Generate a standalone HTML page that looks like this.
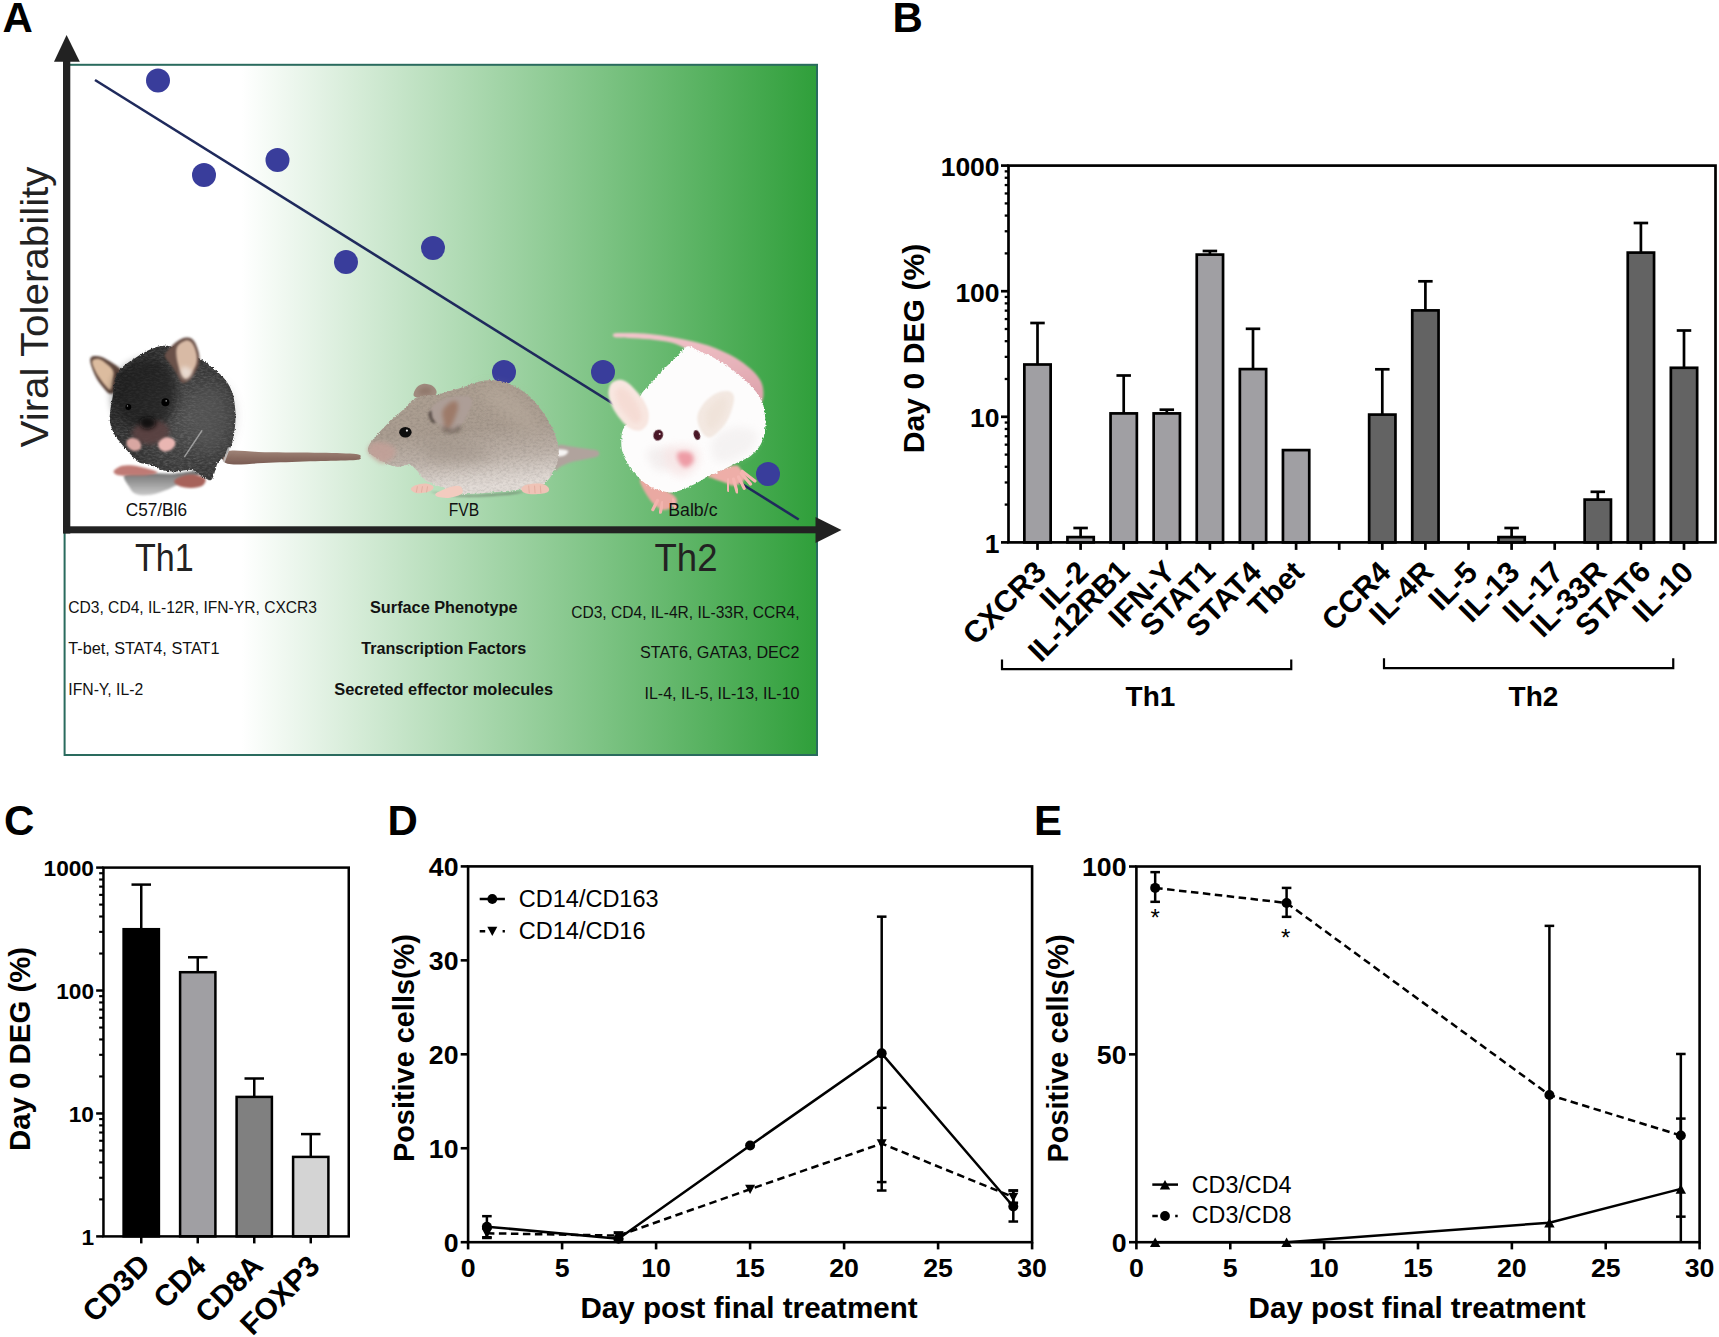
<!DOCTYPE html>
<html lang="en"><head><meta charset="utf-8"><title>Figure</title>
<style>html,body{margin:0;padding:0;background:#fff;overflow:hidden}svg{display:block}text{font-family:'Liberation Sans', sans-serif}</style>
</head><body>
<svg width="1719" height="1337" viewBox="0 0 1719 1337">
<defs>
<linearGradient id="gA" x1="0" y1="0" x2="1" y2="0"><stop offset="0" stop-color="#fff"/><stop offset="0.235" stop-color="#fff"/><stop offset="1" stop-color="#2f9f3a"/></linearGradient>
<filter id="bl05" x="-20%" y="-20%" width="140%" height="140%"><feGaussianBlur stdDeviation="0.5"/></filter>
<filter id="bl1" x="-20%" y="-20%" width="140%" height="140%"><feGaussianBlur stdDeviation="0.9"/></filter>
<filter id="bl2" x="-30%" y="-30%" width="160%" height="160%"><feGaussianBlur stdDeviation="2"/></filter>
<filter id="bl4" x="-40%" y="-40%" width="180%" height="180%"><feGaussianBlur stdDeviation="4"/></filter>
<filter id="bl7" x="-50%" y="-50%" width="200%" height="200%"><feGaussianBlur stdDeviation="7"/></filter>
<filter id="fur" x="-10%" y="-10%" width="120%" height="120%"><feTurbulence type="fractalNoise" baseFrequency="0.55" numOctaves="2" seed="3" result="n"/><feDisplacementMap in="SourceGraphic" in2="n" scale="3.2" xChannelSelector="R" yChannelSelector="G"/><feGaussianBlur stdDeviation="0.55"/></filter>
<filter id="furtex" x="0" y="0" width="100%" height="100%"><feTurbulence type="fractalNoise" baseFrequency="0.25 0.6" numOctaves="3" seed="7" result="n"/><feColorMatrix in="n" type="matrix" values="0 0 0 0 1  0 0 0 0 1  0 0 0 0 1  1.6 0 0 0 -0.62" result="a"/><feComposite in="a" in2="SourceGraphic" operator="in"/></filter>
<filter id="furtexd" x="0" y="0" width="100%" height="100%"><feTurbulence type="fractalNoise" baseFrequency="0.3 0.5" numOctaves="3" seed="11" result="n"/><feColorMatrix in="n" type="matrix" values="0 0 0 0 0  0 0 0 0 0  0 0 0 0 0  0 1.8 0 0 -0.7" result="a"/><feComposite in="a" in2="SourceGraphic" operator="in"/></filter>
<linearGradient id="m1sh" x1="0" y1="0" x2="0" y2="1"><stop offset="0" stop-color="#6f6f6f"/><stop offset="1" stop-color="#c9c9c9"/></linearGradient>
<linearGradient id="m1t" x1="0" y1="0" x2="0" y2="1"><stop offset="0" stop-color="#a08478"/><stop offset="0.5" stop-color="#8c6e63"/><stop offset="1" stop-color="#7a5d54"/></linearGradient>
<radialGradient id="m1g" cx="0.62" cy="0.55" r="0.62"><stop offset="0" stop-color="#505050"/><stop offset="0.55" stop-color="#3c3c3c"/><stop offset="1" stop-color="#2b2b2b"/></radialGradient>
<linearGradient id="m2g" x1="0" y1="0" x2="0.15" y2="1"><stop offset="0" stop-color="#ad9f91"/><stop offset="0.5" stop-color="#aa9d91"/><stop offset="0.75" stop-color="#beb3aa"/><stop offset="0.92" stop-color="#d8d0ca"/><stop offset="1" stop-color="#e2dbd6"/></linearGradient>
<linearGradient id="m3t" x1="0" y1="0" x2="0.3" y2="1"><stop offset="0" stop-color="#f3c6cb"/><stop offset="1" stop-color="#dfa6af"/></linearGradient>
</defs>
<rect width="1719" height="1337" fill="#fff"/>
<g id="panelA">
<text x="2.40" y="32.30" font-size="42" font-weight="bold" text-anchor="start" fill="#000" >A</text>
<rect x="64.6" y="64.8" width="752.4" height="690.2" fill="url(#gA)" stroke="#2a6b5e" stroke-width="2"/>
<line x1="95.00" y1="80.00" x2="798.75" y2="519.50" stroke="#1f2a5c" stroke-width="2.6" />
<circle cx="158" cy="80.5" r="12" fill="#393d9b"/>
<circle cx="204" cy="175" r="12" fill="#393d9b"/>
<circle cx="277.5" cy="160" r="12" fill="#393d9b"/>
<circle cx="346" cy="262" r="12" fill="#393d9b"/>
<circle cx="433" cy="248" r="12" fill="#393d9b"/>
<circle cx="504" cy="372" r="12" fill="#393d9b"/>
<circle cx="603" cy="372" r="12" fill="#393d9b"/>
<circle cx="768" cy="474" r="12" fill="#393d9b"/>
<g id="mouse1">
<path d="M124.5,474.9 C126.9,472.6 135.7,472.6 143.6,472.4 C151.4,472.2 163.1,473.9 171.5,473.7 C180.0,473.5 189.3,471.1 194.4,471.1 C199.5,471.1 204.2,471.8 202.1,473.7 C199.9,475.6 187.2,480.0 181.7,482.6 C176.2,485.1 174.1,486.9 169.0,488.9 C163.9,490.9 156.7,493.8 151.2,494.7 C145.7,495.5 139.7,495.4 135.9,494.0 C132.2,492.6 130.9,489.6 129.0,486.4 C127.0,483.2 122.1,477.3 124.5,474.9Z" fill="url(#m1sh)" filter="url(#bl1)" />
<path d="M227.5,451.2 C233.7,449.3 249.3,451.9 264.8,452.2 C280.3,452.4 305.4,452.4 320.6,452.7 C335.8,453.0 349.3,453.3 356.0,454.0 C362.6,454.8 360.4,456.4 360.4,457.4 C360.4,458.4 362.6,459.4 356.0,460.0 C349.3,460.6 334.3,460.7 320.6,461.1 C307.0,461.5 289.6,462.2 274.1,462.6 C258.6,463.0 235.3,465.6 227.5,463.7 C219.8,461.8 221.3,453.2 227.5,451.2Z" fill="url(#m1t)" filter="url(#bl05)" />
<path d="M90.2,359.2 C90.5,357.2 92.1,356.4 94.0,356.1 C95.9,355.7 98.6,355.9 101.6,357.0 C104.6,358.0 108.8,360.6 111.8,362.4 C114.8,364.3 117.6,366.2 119.4,368.1 C121.2,370.1 122.7,372.1 122.6,373.9 C122.5,375.7 119.8,377.1 118.8,379.0 C117.7,380.8 117.0,382.4 116.2,384.7 C115.5,386.9 115.5,390.8 114.3,392.3 C113.2,393.8 111.2,394.4 109.2,393.6 C107.3,392.7 105.0,389.8 102.9,387.2 C100.8,384.7 98.3,381.5 96.5,378.3 C94.7,375.1 93.1,371.3 92.1,368.1 C91.0,365.0 89.9,361.3 90.2,359.2Z" fill="#5e463c" filter="url(#bl1)" />
<path d="M92.5,360.5 C93.4,359.2 96.6,358.4 99.1,359.0 C101.6,359.6 105.0,362.3 107.3,364.3 C109.7,366.4 112.4,368.7 113.3,371.3 C114.2,374.0 113.3,377.1 112.8,380.2 C112.3,383.3 111.8,389.0 110.5,389.8 C109.2,390.5 106.9,387.2 104.8,384.9 C102.7,382.6 100.0,379.0 98.1,376.0 C96.1,373.1 94.3,369.7 93.4,367.1 C92.4,364.5 91.5,361.9 92.5,360.5Z" fill="#dcbc9f" filter="url(#bl1)" />
<path d="M113.7,471.1 C114.3,469.6 118.7,466.7 122.0,465.8 C125.2,464.9 129.4,465.1 133.4,465.5 C137.4,466.0 142.1,467.2 146.1,468.3 C150.1,469.5 157.6,471.3 157.6,472.4 C157.6,473.5 150.6,474.7 146.1,475.2 C141.7,475.7 135.5,475.6 130.9,475.6 C126.2,475.6 121.0,475.9 118.1,475.2 C115.3,474.5 113.1,472.7 113.7,471.1Z" fill="#bf7a74" filter="url(#bl1)" />
<path d="M174.1,481.3 C174.3,479.6 178.3,477.3 181.7,476.2 C185.1,475.1 190.5,474.3 194.4,474.7 C198.4,475.1 203.9,476.7 205.2,478.5 C206.6,480.3 204.9,483.8 202.7,485.4 C200.5,486.9 195.6,487.7 191.9,487.9 C188.2,488.1 183.4,487.7 180.4,486.6 C177.5,485.5 173.9,483.0 174.1,481.3Z" fill="#a7625a" filter="url(#bl1)" />
<path d="M118.1,372.0 C119.8,369.6 122.6,366.9 125.8,364.3 C129.0,361.8 133.0,359.2 137.2,356.7 C141.5,354.2 147.2,350.9 151.2,349.1 C155.2,347.3 158.0,346.3 161.4,345.9 C164.8,345.5 167.5,345.6 171.5,346.5 C175.6,347.5 180.7,349.5 185.5,351.6 C190.4,353.7 195.9,356.3 200.8,359.2 C205.7,362.2 210.5,365.8 214.8,369.4 C219.0,373.0 223.3,376.8 226.2,380.9 C229.2,384.9 231.0,388.5 232.6,393.6 C234.1,398.7 235.0,405.4 235.4,411.4 C235.7,417.3 235.4,423.7 234.7,429.2 C234.1,434.7 233.0,440.2 231.6,444.4 C230.1,448.7 228.5,451.6 226.2,454.6 C223.9,457.6 219.8,459.7 218.0,462.2 C216.2,464.8 216.6,466.9 215.4,469.9 C214.2,472.8 213.2,479.0 211.0,480.0 C208.7,481.1 205.2,477.9 202.1,476.2 C198.9,474.5 196.1,470.7 191.9,469.9 C187.6,469.1 181.7,471.4 176.6,471.4 C171.5,471.4 165.6,470.9 161.4,469.9 C157.1,468.8 155.0,466.3 151.2,465.0 C147.4,463.8 141.9,464.0 138.5,462.2 C135.1,460.5 133.6,457.6 130.9,454.6 C128.1,451.6 124.7,447.8 122.0,444.4 C119.2,441.0 116.3,438.1 114.3,434.3 C112.3,430.4 110.5,425.8 109.9,421.5 C109.2,417.3 110.0,413.1 110.5,408.8 C111.0,404.6 112.3,399.9 112.8,396.1 C113.3,392.3 113.2,388.9 113.7,385.9 C114.2,383.0 114.9,380.6 115.6,378.3 C116.3,376.0 116.4,374.3 118.1,372.0Z" fill="url(#m1g)" filter="url(#fur)" />
<path d="M118.1,372.0 C119.8,369.6 122.6,366.9 125.8,364.3 C129.0,361.8 133.0,359.2 137.2,356.7 C141.5,354.2 147.2,350.9 151.2,349.1 C155.2,347.3 158.0,346.3 161.4,345.9 C164.8,345.5 167.5,345.6 171.5,346.5 C175.6,347.5 180.7,349.5 185.5,351.6 C190.4,353.7 195.9,356.3 200.8,359.2 C205.7,362.2 210.5,365.8 214.8,369.4 C219.0,373.0 223.3,376.8 226.2,380.9 C229.2,384.9 231.0,388.5 232.6,393.6 C234.1,398.7 235.0,405.4 235.4,411.4 C235.7,417.3 235.4,423.7 234.7,429.2 C234.1,434.7 233.0,440.2 231.6,444.4 C230.1,448.7 228.5,451.6 226.2,454.6 C223.9,457.6 219.8,459.7 218.0,462.2 C216.2,464.8 216.6,466.9 215.4,469.9 C214.2,472.8 213.2,479.0 211.0,480.0 C208.7,481.1 205.2,477.9 202.1,476.2 C198.9,474.5 196.1,470.7 191.9,469.9 C187.6,469.1 181.7,471.4 176.6,471.4 C171.5,471.4 165.6,470.9 161.4,469.9 C157.1,468.8 155.0,466.3 151.2,465.0 C147.4,463.8 141.9,464.0 138.5,462.2 C135.1,460.5 133.6,457.6 130.9,454.6 C128.1,451.6 124.7,447.8 122.0,444.4 C119.2,441.0 116.3,438.1 114.3,434.3 C112.3,430.4 110.5,425.8 109.9,421.5 C109.2,417.3 110.0,413.1 110.5,408.8 C111.0,404.6 112.3,399.9 112.8,396.1 C113.3,392.3 113.2,388.9 113.7,385.9 C114.2,383.0 114.9,380.6 115.6,378.3 C116.3,376.0 116.4,374.3 118.1,372.0Z" fill="#fff" filter="url(#furtex)" opacity="0.2"/>
<path d="M118.1,375.8 C121.5,371.1 127.0,366.0 133.4,363.1 C139.8,360.1 149.9,356.5 156.3,358.0 C162.6,359.5 168.2,365.6 171.5,372.0 C174.9,378.3 177.1,388.3 176.6,396.1 C176.2,404.0 173.2,413.3 169.0,419.0 C164.8,424.7 157.6,429.2 151.2,430.4 C144.8,431.7 136.8,429.8 130.9,426.6 C124.9,423.5 118.6,417.3 115.6,411.4 C112.6,405.4 112.6,397.0 113.1,391.0 C113.5,385.1 114.8,380.4 118.1,375.8Z" fill="#141414" filter="url(#bl4)" opacity="0.6" />
<path d="M194.4,396.1 C198.0,389.1 207.8,383.8 213.5,384.7 C219.2,385.5 226.0,394.2 228.8,401.2 C231.5,408.2 231.5,418.8 230.0,426.6 C228.5,434.5 224.5,444.0 219.9,448.2 C215.2,452.5 206.7,455.7 202.1,452.1 C197.4,448.5 193.2,436.0 191.9,426.6 C190.6,417.3 190.8,403.1 194.4,396.1Z" fill="#5a5a5a" filter="url(#bl7)" opacity="0.55" />
<path d="M164.9,356.1 C164.8,353.7 167.1,351.5 169.0,349.1 C171.0,346.7 173.9,343.6 176.6,341.7 C179.4,339.8 182.7,337.9 185.5,337.6 C188.3,337.4 191.3,337.8 193.4,340.2 C195.6,342.5 197.5,347.8 198.5,351.6 C199.5,355.4 199.8,359.5 199.1,363.1 C198.5,366.7 196.5,370.2 194.7,373.2 C192.9,376.2 190.5,379.6 188.3,381.1 C186.2,382.6 183.7,383.7 181.7,382.4 C179.8,381.1 178.6,376.7 176.6,373.5 C174.6,370.3 171.6,366.2 169.6,363.3 C167.7,360.4 165.0,358.4 164.9,356.1Z" fill="#6a5148" filter="url(#bl1)" />
<path d="M176.9,347.2 C178.3,343.8 183.0,341.2 185.5,340.4 C188.0,339.7 190.1,340.6 191.9,342.7 C193.7,344.8 195.6,349.5 196.3,352.9 C197.1,356.3 197.2,359.8 196.5,363.1 C195.8,366.3 193.9,369.6 192.1,372.2 C190.4,374.8 187.7,378.6 185.8,378.6 C183.9,378.6 182.1,375.2 180.7,372.2 C179.3,369.2 177.8,364.7 177.1,360.5 C176.5,356.3 175.5,350.5 176.9,347.2Z" fill="#d8baa5" filter="url(#bl1)" />
<path d="M181.7,366.9 C183.0,365.6 187.6,367.1 189.3,368.1 C191.0,369.2 192.3,371.4 191.9,373.2 C191.5,375.0 188.5,378.5 186.8,379.0 C185.1,379.4 182.6,377.8 181.7,375.8 C180.9,373.8 180.4,368.1 181.7,366.9Z" fill="#eee3dc" filter="url(#bl2)" opacity="0.8" />
<path d="M135.9,426.6 C138.7,424.5 144.4,422.4 148.7,421.5 C152.9,420.7 158.0,420.1 161.4,421.5 C164.8,423.0 168.6,427.3 169.0,430.4 C169.4,433.6 166.9,438.3 163.9,440.6 C160.9,442.9 155.4,444.2 151.2,444.4 C147.0,444.6 141.7,443.6 138.5,441.9 C135.3,440.2 132.6,436.8 132.1,434.3 C131.7,431.7 133.2,428.7 135.9,426.6Z" fill="#5b4242" filter="url(#bl2)" opacity="0.9" />
<path d="M141.0,419.0 C142.7,417.5 148.7,416.9 151.2,417.7 C153.7,418.6 156.7,422.2 156.3,424.1 C155.9,426.0 151.2,428.7 148.7,429.2 C146.1,429.6 142.3,428.3 141.0,426.6 C139.8,424.9 139.3,420.5 141.0,419.0Z" fill="#0e0e0e" filter="url(#bl2)" opacity="0.9" />
<circle cx="128.3" cy="406.9" r="3" fill="#030303" filter="url(#bl05)"/><circle cx="127.5" cy="405.9" r="0.7" fill="#999"/>
<circle cx="165.4" cy="402.2" r="4" fill="#030303" filter="url(#bl05)"/><circle cx="166.2" cy="400.9" r="0.8" fill="#999"/>
<path d="M126.4,441.9 C126.8,440.3 129.1,438.5 130.9,438.1 C132.7,437.6 135.5,438.3 137.2,439.3 C138.9,440.4 140.6,442.7 141.0,444.4 C141.5,446.1 141.0,448.5 139.8,449.5 C138.5,450.6 135.3,451.1 133.4,450.8 C131.5,450.5 129.5,449.1 128.3,447.6 C127.1,446.1 126.0,443.5 126.4,441.9Z" fill="#d9a7a2" filter="url(#bl1)" />
<path d="M158.8,441.9 C159.9,440.2 162.9,438.0 165.2,437.4 C167.5,436.9 171.1,437.6 172.8,438.7 C174.5,439.8 175.6,442.0 175.4,443.8 C175.1,445.6 173.5,448.2 171.5,449.5 C169.6,450.8 166.0,451.7 163.9,451.4 C161.8,451.1 159.7,449.2 158.8,447.6 C158.0,446.0 157.8,443.6 158.8,441.9Z" fill="#e9b6b2" filter="url(#bl1)" />
<path d="M184.3,457.1 L202.1,430.4" stroke="#b9b9b9" stroke-width="1.5" opacity="0.75" filter="url(#bl05)"/>
<path d="M223.7,462.2 L229.0,447.6" stroke="#d0d0d0" stroke-width="2.2" opacity="0.75" filter="url(#bl05)"/>
</g>
<g id="mouse2">
<path d="M554.9,451.4 C555.6,447.2 556.6,445.7 559.2,444.9 C561.9,444.1 566.3,445.8 570.9,446.5 C575.5,447.2 582.6,448.2 586.9,448.8 C591.1,449.5 594.3,449.6 596.3,450.3 C598.4,451.0 599.1,452.1 599.2,453.2 C599.4,454.2 599.1,455.6 597.1,456.5 C595.0,457.5 591.2,458.1 586.9,459.0 C582.5,460.0 575.2,460.9 570.9,462.2 C566.5,463.5 563.4,465.2 560.7,466.6 C558.0,467.9 555.9,472.9 554.9,470.3 C553.9,467.8 554.2,455.7 554.9,451.4Z" fill="#b0a39d" filter="url(#bl1)" />
<path d="M557.1,449.7 C559.0,448.8 566.8,449.9 568.0,450.9 C569.2,451.8 566.3,454.6 564.3,455.5 C562.4,456.4 557.5,457.1 556.3,456.1 C555.1,455.1 555.1,450.6 557.1,449.7Z" fill="#f6f4f3" filter="url(#bl1)" />
<path d="M429.8,491.4 C429.8,491.1 449.2,494.8 461.8,495.1 C474.4,495.3 495.0,493.5 505.4,492.9 C515.9,492.3 524.3,491.1 524.3,491.4 C524.3,491.8 515.9,494.2 505.4,495.1 C495.0,496.0 474.4,497.4 461.8,496.8 C449.2,496.2 429.8,491.7 429.8,491.4Z" fill="#5f6b5c" filter="url(#bl1)" opacity="0.6" />
<path d="M413.5,395.0 C413.4,393.3 415.0,389.3 416.7,387.5 C418.5,385.6 421.3,384.1 424.0,383.8 C426.7,383.6 430.6,384.7 432.7,386.0 C434.8,387.3 436.5,390.0 436.6,391.8 C436.8,393.6 435.6,396.1 433.4,396.9 C431.3,397.8 426.7,396.8 424.0,396.9 C421.3,397.0 419.2,397.9 417.4,397.6 C415.7,397.3 413.6,396.7 413.5,395.0Z" fill="#a08b7f" filter="url(#bl05)" />
<path d="M418.2,393.3 C417.7,392.2 419.6,389.3 421.1,388.2 C422.5,387.1 425.1,386.5 426.9,386.7 C428.7,387.0 431.5,388.4 432.0,389.6 C432.5,390.8 431.1,393.1 429.8,394.0 C428.5,394.8 425.9,394.8 424.0,394.7 C422.1,394.6 418.7,394.4 418.2,393.3Z" fill="#8d7468" filter="url(#bl2)" opacity="0.8" />
<path d="M368.0,448.5 C368.4,446.5 369.6,444.2 371.6,441.3 C373.7,438.4 377.0,434.7 380.4,431.1 C383.8,427.4 388.1,423.1 392.0,419.4 C395.9,415.8 400.0,412.7 403.6,409.3 C407.3,405.9 410.4,401.4 413.8,399.1 C417.2,396.8 420.4,396.2 424.0,395.5 C427.6,394.7 431.7,395.3 435.6,394.7 C439.5,394.1 442.9,393.0 447.3,391.8 C451.6,390.6 457.0,389.0 461.8,387.5 C466.7,385.9 472.0,383.6 476.3,382.4 C480.7,381.1 484.1,380.4 488.0,380.2 C491.9,379.9 495.5,380.1 499.6,380.9 C503.7,381.8 508.3,383.2 512.7,385.3 C517.1,387.3 521.7,390.0 525.8,393.3 C529.9,396.5 533.8,400.5 537.4,404.9 C541.1,409.3 544.7,414.6 547.6,419.4 C550.5,424.3 553.1,429.1 554.9,434.0 C556.7,438.8 558.0,444.2 558.5,448.5 C559.0,452.9 558.6,456.3 557.8,460.2 C556.9,464.0 555.1,468.4 553.4,471.8 C551.7,475.2 550.0,478.1 547.6,480.5 C545.2,483.0 543.5,484.8 538.9,486.3 C534.3,487.8 528.0,488.5 520.0,489.5 C512.0,490.6 500.1,491.7 490.9,492.5 C481.7,493.2 471.5,494.4 464.7,493.9 C457.9,493.4 455.0,491.0 450.2,489.5 C445.3,488.0 440.0,486.6 435.6,484.9 C431.3,483.1 427.1,481.5 424.0,479.1 C420.8,476.7 419.1,472.8 416.7,470.3 C414.3,467.9 412.6,465.1 409.4,464.5 C406.3,463.9 401.7,467.1 397.8,466.9 C393.9,466.7 389.8,464.9 386.2,463.4 C382.5,461.8 378.8,459.2 376.0,457.6 C373.2,455.9 370.8,454.7 369.5,453.2 C368.1,451.7 367.6,450.5 368.0,448.5Z" fill="url(#m2g)" filter="url(#fur)" />
<path d="M368.0,448.5 C368.4,446.5 369.6,444.2 371.6,441.3 C373.7,438.4 377.0,434.7 380.4,431.1 C383.8,427.4 388.1,423.1 392.0,419.4 C395.9,415.8 400.0,412.7 403.6,409.3 C407.3,405.9 410.4,401.4 413.8,399.1 C417.2,396.8 420.4,396.2 424.0,395.5 C427.6,394.7 431.7,395.3 435.6,394.7 C439.5,394.1 442.9,393.0 447.3,391.8 C451.6,390.6 457.0,389.0 461.8,387.5 C466.7,385.9 472.0,383.6 476.3,382.4 C480.7,381.1 484.1,380.4 488.0,380.2 C491.9,379.9 495.5,380.1 499.6,380.9 C503.7,381.8 508.3,383.2 512.7,385.3 C517.1,387.3 521.7,390.0 525.8,393.3 C529.9,396.5 533.8,400.5 537.4,404.9 C541.1,409.3 544.7,414.6 547.6,419.4 C550.5,424.3 553.1,429.1 554.9,434.0 C556.7,438.8 558.0,444.2 558.5,448.5 C559.0,452.9 558.6,456.3 557.8,460.2 C556.9,464.0 555.1,468.4 553.4,471.8 C551.7,475.2 550.0,478.1 547.6,480.5 C545.2,483.0 543.5,484.8 538.9,486.3 C534.3,487.8 528.0,488.5 520.0,489.5 C512.0,490.6 500.1,491.7 490.9,492.5 C481.7,493.2 471.5,494.4 464.7,493.9 C457.9,493.4 455.0,491.0 450.2,489.5 C445.3,488.0 440.0,486.6 435.6,484.9 C431.3,483.1 427.1,481.5 424.0,479.1 C420.8,476.7 419.1,472.8 416.7,470.3 C414.3,467.9 412.6,465.1 409.4,464.5 C406.3,463.9 401.7,467.1 397.8,466.9 C393.9,466.7 389.8,464.9 386.2,463.4 C382.5,461.8 378.8,459.2 376.0,457.6 C373.2,455.9 370.8,454.7 369.5,453.2 C368.1,451.7 367.6,450.5 368.0,448.5Z" fill="#4a3f36" filter="url(#furtexd)" opacity="0.11"/>
<path d="M410.9,489.5 C410.4,488.2 412.8,486.2 415.3,485.2 C417.7,484.2 422.5,483.3 425.4,483.4 C428.4,483.6 432.0,484.9 433.0,486.1 C434.0,487.2 433.7,489.2 431.3,490.4 C428.8,491.6 421.6,493.5 418.2,493.3 C414.8,493.2 411.4,490.9 410.9,489.5Z" fill="#efc3b6" filter="url(#bl05)" />
<path d="M435.3,493.9 C435.8,492.8 438.5,491.7 441.4,490.4 C444.4,489.2 449.9,487.0 453.1,486.3 C456.3,485.7 459.1,485.4 460.6,486.6 C462.1,487.8 463.8,491.8 462.1,493.6 C460.3,495.5 454.1,497.1 450.2,497.7 C446.2,498.3 441.0,497.7 438.5,497.1 C436.1,496.5 434.8,495.0 435.3,493.9Z" fill="#f3cbbf" filter="url(#bl05)" />
<path d="M521.4,488.4 C521.9,487.0 523.9,485.4 527.2,484.6 C530.6,483.8 538.2,483.2 541.8,483.7 C545.4,484.3 547.8,486.3 548.6,487.8 C549.5,489.3 549.4,491.4 547.0,492.5 C544.7,493.5 538.3,494.2 534.5,494.2 C530.7,494.2 526.5,493.7 524.3,492.7 C522.2,491.8 520.9,489.7 521.4,488.4Z" fill="#efc3b6" filter="url(#bl05)" />
<path d="M417.4,486.3 L416.3,492.5" stroke="#d9a193" stroke-width="0.8" opacity="0.8"/>
<path d="M422.5,486.3 L421.4,492.5" stroke="#d9a193" stroke-width="0.8" opacity="0.8"/>
<path d="M427.6,486.3 L426.5,492.5" stroke="#d9a193" stroke-width="0.8" opacity="0.8"/>
<path d="M528.7,485.6 L529.3,493.3" stroke="#d9a193" stroke-width="0.8" opacity="0.8"/>
<path d="M534.5,485.6 L535.1,493.3" stroke="#d9a193" stroke-width="0.8" opacity="0.8"/>
<path d="M540.3,485.6 L540.9,493.3" stroke="#d9a193" stroke-width="0.8" opacity="0.8"/>
<path d="M421.1,445.6 C423.5,442.0 438.0,438.4 447.3,438.4 C456.5,438.4 469.1,442.5 476.3,445.6 C483.6,448.8 493.3,454.4 490.9,457.3 C488.5,460.2 471.5,462.6 461.8,463.1 C452.1,463.6 439.5,463.1 432.7,460.2 C425.9,457.3 418.7,449.3 421.1,445.6Z" fill="#968a7f" filter="url(#bl7)" opacity="0.4" />
<path d="M479.3,391.8 C479.3,387.9 494.5,387.7 502.5,390.4 C510.5,393.0 520.7,401.0 527.2,407.8 C533.8,414.6 541.8,427.2 541.8,431.1 C541.8,435.0 533.8,434.0 527.2,431.1 C520.7,428.2 510.5,420.2 502.5,413.6 C494.5,407.1 479.3,395.7 479.3,391.8Z" fill="#b9ac9f" filter="url(#bl7)" opacity="0.6" />
<path d="M429.5,412.5 C430.0,410.2 431.7,407.1 434.2,404.9 C436.6,402.7 440.2,400.5 444.4,399.1 C448.5,397.6 454.7,396.5 458.9,396.2 C463.1,395.8 467.1,395.9 469.4,396.9 C471.6,397.9 472.5,399.5 472.3,402.3 C472.0,405.1 469.6,410.0 467.9,413.6 C466.2,417.2 464.5,421.1 462.1,423.8 C459.7,426.5 456.3,429.1 453.4,429.9 C450.4,430.7 447.1,429.7 444.4,428.5 C441.6,427.3 439.3,424.3 437.1,422.6 C434.9,421.0 432.5,420.0 431.3,418.3 C430.0,416.6 429.0,414.7 429.5,412.5Z" fill="#ad9e97" filter="url(#bl1)" />
<path d="M442.6,411.0 C443.5,408.3 446.5,405.1 448.7,403.4 C450.9,401.8 454.4,400.4 456.0,401.1 C457.5,401.8 458.2,405.0 458.0,407.8 C457.8,410.6 456.1,414.8 454.8,418.0 C453.6,421.1 452.0,425.0 450.5,426.7 C449.0,428.5 447.0,429.6 445.8,428.5 C444.6,427.3 444.0,422.6 443.5,419.7 C442.9,416.8 441.7,413.7 442.6,411.0Z" fill="#9d7a69" filter="url(#bl2)" />
<path d="M428.4,413.6 C428.6,412.3 430.5,410.0 431.3,410.7 C432.0,411.4 432.0,416.1 432.7,418.0 C433.4,419.9 435.6,421.5 435.6,422.4 C435.6,423.2 433.7,423.7 432.7,423.1 C431.7,422.5 430.2,420.3 429.5,418.7 C428.8,417.1 428.1,415.0 428.4,413.6Z" fill="#4d433d" filter="url(#bl1)" opacity="0.8" />
<path d="M441.4,426.7 C442.4,426.2 449.9,429.9 453.1,429.6 C456.2,429.4 459.4,425.0 460.3,425.3 C461.3,425.5 461.1,429.9 458.9,431.1 C456.7,432.3 450.2,433.3 447.3,432.5 C444.4,431.8 440.5,427.2 441.4,426.7Z" fill="#5a4d45" filter="url(#bl2)" opacity="0.7" />
<ellipse cx="405.4" cy="432.2" rx="6.2" ry="5.3" fill="#0b0b0b" filter="url(#bl05)"/><circle cx="406.9" cy="430.6" r="1.1" fill="#e8e8e8"/>
<path d="M368.0,448.5 C368.7,446.7 370.3,443.7 373.1,442.7 C375.9,441.7 381.1,441.7 384.7,442.7 C388.4,443.7 393.4,446.1 394.9,448.5 C396.4,451.0 395.4,454.8 393.4,457.3 C391.5,459.7 386.4,462.8 383.3,463.1 C380.1,463.3 376.9,460.3 374.5,458.7 C372.2,457.1 370.1,455.3 369.0,453.6 C367.9,451.9 367.3,450.4 368.0,448.5Z" fill="#c3a098" filter="url(#bl2)" opacity="0.85" />
</g>
<g id="mouse3">
<path d="M614.2,333.5 C616.5,332.8 622.5,333.0 628.4,333.1 C634.3,333.2 642.6,333.5 649.7,334.1 C656.8,334.7 663.9,335.7 671.0,336.9 C678.1,338.1 685.2,339.4 692.3,341.2 C699.4,342.9 706.5,344.7 713.7,347.4 C720.8,350.1 728.8,353.8 735.0,357.4 C741.1,360.9 746.2,364.7 750.6,368.8 C755.0,372.8 759.1,377.3 761.2,381.8 C763.4,386.4 763.7,392.2 763.4,396.0 C763.0,399.8 761.5,405.3 759.1,404.6 C756.7,403.8 752.5,395.8 749.2,391.8 C745.9,387.7 742.8,384.0 739.2,380.4 C735.7,376.9 732.6,373.8 727.9,370.5 C723.1,367.1 716.0,363.4 710.8,360.5 C705.6,357.7 700.9,355.4 696.6,353.4 C692.3,351.4 689.5,350.2 685.2,348.4 C681.0,346.6 677.0,344.1 671.0,342.6 C665.1,341.1 656.8,340.1 649.7,339.3 C642.6,338.6 634.2,338.3 628.4,337.9 C622.6,337.6 617.3,338.0 614.9,337.2 C612.5,336.5 612.0,334.2 614.2,333.5Z" fill="url(#m3t)" filter="url(#bl1)" />
<path d="M639.8,479.9 C640.3,477.4 645.0,477.2 648.3,478.4 C651.6,479.6 655.4,484.1 659.7,487.0 C663.9,489.8 671.0,492.9 673.9,495.5 C676.8,498.1 677.5,500.5 677.0,502.6 C676.5,504.7 673.4,507.1 671.0,508.3 C668.6,509.4 665.4,510.3 662.5,509.7 C659.7,509.0 656.8,507.1 654.0,504.3 C651.1,501.5 647.8,497.0 645.5,492.9 C643.1,488.8 639.3,482.3 639.8,479.9Z" fill="#eaa9a2" filter="url(#bl1)" />
<path d="M657.5,500.5 L652.8,509.7" stroke="#f2b3ad" stroke-width="3.2" stroke-linecap="round" filter="url(#bl05)"/>
<path d="M662.5,502.6 L660.4,512.2" stroke="#f2b3ad" stroke-width="3.2" stroke-linecap="round" filter="url(#bl05)"/>
<path d="M668.2,502.6 L668.2,512.0" stroke="#f2b3ad" stroke-width="3.2" stroke-linecap="round" filter="url(#bl05)"/>
<path d="M672.7,500.0 L676.0,508.5" stroke="#f2b3ad" stroke-width="3.2" stroke-linecap="round" filter="url(#bl05)"/>
<path d="M708.0,475.6 C709.4,473.9 717.4,470.1 722.2,468.5 C726.9,466.8 733.1,465.2 736.4,465.6 C739.7,466.1 740.6,469.2 742.1,471.3 C743.5,473.5 745.4,476.3 744.9,478.4 C744.4,480.6 741.4,482.9 739.2,484.1 C737.1,485.3 734.5,485.8 732.1,485.5 C729.8,485.3 728.1,483.8 725.0,482.7 C721.9,481.6 716.5,479.9 713.7,478.7 C710.8,477.5 706.5,477.3 708.0,475.6Z" fill="#eeaea8" filter="url(#bl1)" />
<path d="M727.9,479.9 L728.6,490.5" stroke="#f4b6b1" stroke-width="3.2" stroke-linecap="round" filter="url(#bl05)"/>
<path d="M733.5,479.1 L737.1,491.9" stroke="#f4b6b1" stroke-width="3.2" stroke-linecap="round" filter="url(#bl05)"/>
<path d="M738.5,477.0 L744.2,488.4" stroke="#f4b6b1" stroke-width="3.2" stroke-linecap="round" filter="url(#bl05)"/>
<path d="M741.4,473.5 L750.6,484.1" stroke="#f4b6b1" stroke-width="3.2" stroke-linecap="round" filter="url(#bl05)"/>
<path d="M742.1,471.3 L754.9,481.0" stroke="#f4b6b1" stroke-width="3.2" stroke-linecap="round" filter="url(#bl05)"/>
<path d="M688.1,346.3 C691.4,346.0 695.2,349.4 699.4,351.3 C703.7,353.2 708.9,355.2 713.7,357.7 C718.4,360.2 723.1,362.9 727.9,366.2 C732.6,369.5 737.6,373.5 742.1,377.6 C746.6,381.6 751.5,386.3 754.9,390.4 C758.2,394.4 760.5,397.5 762.2,401.7 C763.9,406.0 764.6,411.2 765.1,415.9 C765.6,420.7 765.8,425.4 765.1,430.1 C764.4,434.9 763.2,440.1 760.8,444.3 C758.5,448.6 754.5,452.8 750.9,455.7 C747.3,458.6 743.1,459.7 739.2,461.7 C735.4,463.6 731.6,465.5 727.9,467.3 C724.1,469.2 719.8,471.6 716.5,473.0 C713.2,474.5 710.8,474.5 708.0,475.9 C705.1,477.3 702.8,479.7 699.4,481.6 C696.1,483.5 691.9,485.6 688.1,487.2 C684.3,488.9 679.4,490.6 676.7,491.5 C674.0,492.4 674.1,492.7 671.7,492.6 C669.4,492.6 665.9,492.1 662.5,491.2 C659.1,490.3 654.9,489.3 651.1,487.2 C647.4,485.2 643.3,482.0 639.8,478.7 C636.2,475.4 632.7,471.6 629.8,467.3 C627.0,463.1 624.2,457.9 622.7,453.1 C621.3,448.4 621.1,443.2 621.3,438.9 C621.5,434.6 622.0,431.1 624.2,427.3 C626.3,423.5 631.3,421.4 634.1,415.9 C636.9,410.5 638.6,399.8 641.2,394.6 C643.8,389.4 646.6,388.2 649.7,384.7 C652.8,381.1 656.1,377.1 659.7,373.3 C663.2,369.5 667.7,365.3 671.0,361.9 C674.3,358.6 676.7,356.0 679.6,353.4 C682.4,350.8 684.8,346.7 688.1,346.3Z" fill="#fdfcfc" filter="url(#fur)" />
<path d="M713.7,438.7 C717.2,433.4 727.9,428.2 735.0,427.3 C742.1,426.3 753.7,429.2 756.3,433.0 C758.9,436.8 755.3,445.3 750.6,450.0 C745.9,454.8 734.0,460.0 727.9,461.4 C721.7,462.8 716.0,462.3 713.7,458.5 C711.3,454.8 710.1,443.9 713.7,438.7Z" fill="#eeeaea" filter="url(#bl4)" opacity="0.55" />
<path d="M646.9,452.9 C647.4,449.1 655.2,447.2 659.7,447.2 C664.2,447.2 672.0,449.5 673.9,452.9 C675.8,456.2 673.9,464.2 671.0,467.1 C668.2,469.9 660.9,472.3 656.8,469.9 C652.8,467.5 646.4,456.6 646.9,452.9Z" fill="#efe9e9" filter="url(#bl4)" opacity="0.7" />
<path d="M608.5,391.8 C608.8,388.9 609.5,385.3 611.4,383.2 C613.3,381.2 617.0,379.7 619.9,379.7 C622.7,379.7 625.6,381.2 628.4,383.2 C631.3,385.3 634.3,388.7 636.9,391.8 C639.6,394.8 642.4,398.2 644.3,401.7 C646.3,405.3 648.1,409.3 648.6,413.1 C649.1,416.9 648.6,421.6 647.2,424.4 C645.7,427.3 642.7,429.7 640.1,430.4 C637.4,431.2 634.1,430.4 631.3,429.0 C628.4,427.6 625.6,425.0 622.7,421.9 C619.9,418.8 616.3,414.1 614.2,410.5 C612.1,407.0 610.9,403.7 609.9,400.6 C609.0,397.5 608.3,394.7 608.5,391.8Z" fill="#f8e6e0" filter="url(#bl1)" />
<path d="M615.6,391.8 C616.1,388.9 618.9,387.3 621.3,387.5 C623.7,387.7 627.0,390.1 629.8,393.2 C632.7,396.3 636.5,401.7 638.4,406.0 C640.3,410.2 641.7,415.9 641.2,418.8 C640.7,421.6 637.9,423.5 635.5,423.0 C633.1,422.6 629.8,419.0 627.0,415.9 C624.2,412.8 620.4,408.6 618.5,404.6 C616.6,400.5 615.2,394.6 615.6,391.8Z" fill="#f4d6cd" filter="url(#bl2)" opacity="0.6" />
<path d="M698.0,413.4 C699.2,409.8 702.1,405.1 705.1,401.7 C708.2,398.4 712.7,395.0 716.5,393.2 C720.3,391.4 725.0,390.6 727.9,391.1 C730.7,391.5 733.1,393.3 733.8,396.0 C734.6,398.8 733.6,403.1 732.4,407.4 C731.2,411.7 729.1,417.5 726.7,421.6 C724.4,425.7 721.0,429.2 718.2,431.8 C715.4,434.5 712.3,437.3 709.7,437.5 C707.1,437.8 704.5,435.6 702.6,433.3 C700.6,430.9 698.8,426.6 698.0,423.3 C697.3,420.0 696.8,417.0 698.0,413.4Z" fill="#f3e8e1" filter="url(#bl1)" />
<path d="M706.5,411.7 C708.0,407.9 712.0,404.1 715.1,401.7 C718.2,399.3 723.1,396.5 725.0,397.5 C726.9,398.4 727.1,403.6 726.4,407.4 C725.7,411.2 723.1,416.6 720.8,420.2 C718.4,423.7 714.6,428.0 712.2,428.7 C709.9,429.4 707.5,427.3 706.5,424.4 C705.6,421.6 705.1,415.4 706.5,411.7Z" fill="#efe2d8" filter="url(#bl2)" opacity="0.7" />
<ellipse cx="658.2" cy="435.1" rx="4.8" ry="5.6" fill="#4a1826" transform="rotate(20 658.2 435.1)" filter="url(#bl05)"/><circle cx="659.7" cy="433.9" r="1" fill="#e8d0d4"/>
<ellipse cx="696.9" cy="435.1" rx="3.1" ry="5" fill="#4a1826" transform="rotate(-18 696.9 435.1)" filter="url(#bl05)"/>
<path d="M663.9,450.0 C665.6,446.7 671.7,446.2 676.7,445.8 C681.7,445.3 690.0,445.0 693.8,447.2 C697.6,449.3 699.9,454.3 699.4,458.5 C699.0,462.8 694.7,469.9 690.9,472.7 C687.1,475.6 680.7,476.8 676.7,475.6 C672.7,474.4 668.9,469.9 666.8,465.6 C664.6,461.4 662.3,453.3 663.9,450.0Z" fill="#f7e4e4" filter="url(#bl4)" opacity="0.8" />
<path d="M677.4,453.1 C678.5,451.4 682.9,451.4 685.2,451.4 C687.6,451.5 690.3,451.9 691.6,453.6 C693.0,455.3 694.4,459.4 693.3,461.7 C692.3,464.0 687.9,467.3 685.5,467.3 C683.1,467.3 680.2,464.0 678.8,461.7 C677.5,459.3 676.4,454.8 677.4,453.1Z" fill="#ee9ca6" filter="url(#bl2)" />
</g>
<rect x="63" y="58" width="7.3" height="475.5" fill="#222"/>
<polygon points="66.6,35 54,61.8 79.8,61.8" fill="#222"/>
<rect x="63.5" y="526.3" width="754" height="7" fill="#222"/>
<polygon points="841.5,530 815.5,517 815.5,543" fill="#222"/>
<text transform="translate(48.00,447.50) rotate(-90)" font-size="38.5" font-weight="normal" text-anchor="start" fill="#222" textLength="281" lengthAdjust="spacingAndGlyphs">Viral Tolerability</text>
<text x="125.75" y="516.25" font-size="17.5" font-weight="normal" text-anchor="start" fill="#111" textLength="61.25" lengthAdjust="spacingAndGlyphs">C57/Bl6</text>
<text x="448.75" y="516.25" font-size="17.5" font-weight="normal" text-anchor="start" fill="#111" textLength="30.50" lengthAdjust="spacingAndGlyphs">FVB</text>
<text x="668.25" y="516.25" font-size="17.5" font-weight="normal" text-anchor="start" fill="#111" textLength="49.25" lengthAdjust="spacingAndGlyphs">Balb/c</text>
<text x="135.00" y="570.50" font-size="39.4" font-weight="normal" text-anchor="start" fill="#222" textLength="58.75" lengthAdjust="spacingAndGlyphs">Th1</text>
<text x="654.50" y="570.50" font-size="39.4" font-weight="normal" text-anchor="start" fill="#222" textLength="63.00" lengthAdjust="spacingAndGlyphs">Th2</text>
<text x="68.25" y="612.50" font-size="16.8" font-weight="normal" text-anchor="start" fill="#111" textLength="248.75" lengthAdjust="spacingAndGlyphs">CD3, CD4, IL-12R, IFN-YR, CXCR3</text>
<text x="68.25" y="653.75" font-size="16.8" font-weight="normal" text-anchor="start" fill="#111" textLength="151.25" lengthAdjust="spacingAndGlyphs">T-bet, STAT4, STAT1</text>
<text x="68.25" y="694.50" font-size="16.8" font-weight="normal" text-anchor="start" fill="#111" textLength="75.00" lengthAdjust="spacingAndGlyphs">IFN-Y, IL-2</text>
<text x="370.00" y="612.50" font-size="16.8" font-weight="bold" text-anchor="start" fill="#111" textLength="147.50" lengthAdjust="spacingAndGlyphs">Surface Phenotype</text>
<text x="361.25" y="653.75" font-size="16.8" font-weight="bold" text-anchor="start" fill="#111" textLength="165.00" lengthAdjust="spacingAndGlyphs">Transcription Factors</text>
<text x="334.25" y="694.50" font-size="16.8" font-weight="bold" text-anchor="start" fill="#111" textLength="218.75" lengthAdjust="spacingAndGlyphs">Secreted effector molecules</text>
<text x="571.25" y="617.50" font-size="16.8" font-weight="normal" text-anchor="start" fill="#111" textLength="228.25" lengthAdjust="spacingAndGlyphs">CD3, CD4, IL-4R, IL-33R, CCR4,</text>
<text x="640.00" y="658.25" font-size="16.8" font-weight="normal" text-anchor="start" fill="#111" textLength="159.50" lengthAdjust="spacingAndGlyphs">STAT6, GATA3, DEC2</text>
<text x="644.50" y="699.25" font-size="16.8" font-weight="normal" text-anchor="start" fill="#111" textLength="155.00" lengthAdjust="spacingAndGlyphs">IL-4, IL-5, IL-13, IL-10</text>
</g>
<g id="panelB">
<text x="892.40" y="32.30" font-size="42" font-weight="bold" text-anchor="start" fill="#000" >B</text>
<line x1="1037.50" y1="323.00" x2="1037.50" y2="364.50" stroke="#000" stroke-width="2.7" />
<line x1="1030.25" y1="323.00" x2="1044.75" y2="323.00" stroke="#000" stroke-width="2.7" />
<rect x="1024.35" y="364.50" width="26.30" height="177.90" fill="#a09fa3" stroke="#000" stroke-width="2.7"/>
<line x1="1080.60" y1="528.00" x2="1080.60" y2="537.10" stroke="#000" stroke-width="2.7" />
<line x1="1073.35" y1="528.00" x2="1087.85" y2="528.00" stroke="#000" stroke-width="2.7" />
<rect x="1067.45" y="537.10" width="26.30" height="5.30" fill="#a09fa3" stroke="#000" stroke-width="2.7"/>
<line x1="1123.70" y1="375.50" x2="1123.70" y2="413.40" stroke="#000" stroke-width="2.7" />
<line x1="1116.45" y1="375.50" x2="1130.95" y2="375.50" stroke="#000" stroke-width="2.7" />
<rect x="1110.55" y="413.40" width="26.30" height="129.00" fill="#a09fa3" stroke="#000" stroke-width="2.7"/>
<line x1="1166.80" y1="409.70" x2="1166.80" y2="413.40" stroke="#000" stroke-width="2.7" />
<line x1="1159.55" y1="409.70" x2="1174.05" y2="409.70" stroke="#000" stroke-width="2.7" />
<rect x="1153.65" y="413.40" width="26.30" height="129.00" fill="#a09fa3" stroke="#000" stroke-width="2.7"/>
<line x1="1209.90" y1="251.00" x2="1209.90" y2="254.60" stroke="#000" stroke-width="2.7" />
<line x1="1202.65" y1="251.00" x2="1217.15" y2="251.00" stroke="#000" stroke-width="2.7" />
<rect x="1196.75" y="254.60" width="26.30" height="287.80" fill="#a09fa3" stroke="#000" stroke-width="2.7"/>
<line x1="1253.00" y1="328.80" x2="1253.00" y2="369.10" stroke="#000" stroke-width="2.7" />
<line x1="1245.75" y1="328.80" x2="1260.25" y2="328.80" stroke="#000" stroke-width="2.7" />
<rect x="1239.85" y="369.10" width="26.30" height="173.30" fill="#a09fa3" stroke="#000" stroke-width="2.7"/>
<rect x="1282.95" y="450.10" width="26.30" height="92.30" fill="#a09fa3" stroke="#000" stroke-width="2.7"/>
<line x1="1382.30" y1="369.30" x2="1382.30" y2="414.60" stroke="#000" stroke-width="2.7" />
<line x1="1375.05" y1="369.30" x2="1389.55" y2="369.30" stroke="#000" stroke-width="2.7" />
<rect x="1369.15" y="414.60" width="26.30" height="127.80" fill="#636363" stroke="#000" stroke-width="2.7"/>
<line x1="1425.40" y1="281.30" x2="1425.40" y2="310.40" stroke="#000" stroke-width="2.7" />
<line x1="1418.15" y1="281.30" x2="1432.65" y2="281.30" stroke="#000" stroke-width="2.7" />
<rect x="1412.25" y="310.40" width="26.30" height="232.00" fill="#636363" stroke="#000" stroke-width="2.7"/>
<line x1="1511.60" y1="528.00" x2="1511.60" y2="537.10" stroke="#000" stroke-width="2.7" />
<line x1="1504.35" y1="528.00" x2="1518.85" y2="528.00" stroke="#000" stroke-width="2.7" />
<rect x="1498.45" y="537.10" width="26.30" height="5.30" fill="#636363" stroke="#000" stroke-width="2.7"/>
<line x1="1597.80" y1="491.80" x2="1597.80" y2="499.60" stroke="#000" stroke-width="2.7" />
<line x1="1590.55" y1="491.80" x2="1605.05" y2="491.80" stroke="#000" stroke-width="2.7" />
<rect x="1584.65" y="499.60" width="26.30" height="42.80" fill="#636363" stroke="#000" stroke-width="2.7"/>
<line x1="1640.90" y1="223.00" x2="1640.90" y2="252.60" stroke="#000" stroke-width="2.7" />
<line x1="1633.65" y1="223.00" x2="1648.15" y2="223.00" stroke="#000" stroke-width="2.7" />
<rect x="1627.75" y="252.60" width="26.30" height="289.80" fill="#636363" stroke="#000" stroke-width="2.7"/>
<line x1="1684.00" y1="330.50" x2="1684.00" y2="367.80" stroke="#000" stroke-width="2.7" />
<line x1="1676.75" y1="330.50" x2="1691.25" y2="330.50" stroke="#000" stroke-width="2.7" />
<rect x="1670.85" y="367.80" width="26.30" height="174.60" fill="#636363" stroke="#000" stroke-width="2.7"/>
<rect x="1008.5" y="165.6" width="707.0" height="376.79999999999995" fill="none" stroke="#000" stroke-width="2.7"/>
<line x1="1001.00" y1="542.40" x2="1008.50" y2="542.40" stroke="#000" stroke-width="2.7" />
<line x1="1004.70" y1="504.59" x2="1008.50" y2="504.59" stroke="#000" stroke-width="2.295" />
<line x1="1004.70" y1="482.47" x2="1008.50" y2="482.47" stroke="#000" stroke-width="2.295" />
<line x1="1004.70" y1="466.78" x2="1008.50" y2="466.78" stroke="#000" stroke-width="2.295" />
<line x1="1004.70" y1="454.61" x2="1008.50" y2="454.61" stroke="#000" stroke-width="2.295" />
<line x1="1004.70" y1="444.66" x2="1008.50" y2="444.66" stroke="#000" stroke-width="2.295" />
<line x1="1004.70" y1="436.26" x2="1008.50" y2="436.26" stroke="#000" stroke-width="2.295" />
<line x1="1004.70" y1="428.97" x2="1008.50" y2="428.97" stroke="#000" stroke-width="2.295" />
<line x1="1004.70" y1="422.55" x2="1008.50" y2="422.55" stroke="#000" stroke-width="2.295" />
<line x1="1001.00" y1="416.80" x2="1008.50" y2="416.80" stroke="#000" stroke-width="2.7" />
<line x1="1004.70" y1="378.99" x2="1008.50" y2="378.99" stroke="#000" stroke-width="2.295" />
<line x1="1004.70" y1="356.87" x2="1008.50" y2="356.87" stroke="#000" stroke-width="2.295" />
<line x1="1004.70" y1="341.18" x2="1008.50" y2="341.18" stroke="#000" stroke-width="2.295" />
<line x1="1004.70" y1="329.01" x2="1008.50" y2="329.01" stroke="#000" stroke-width="2.295" />
<line x1="1004.70" y1="319.06" x2="1008.50" y2="319.06" stroke="#000" stroke-width="2.295" />
<line x1="1004.70" y1="310.66" x2="1008.50" y2="310.66" stroke="#000" stroke-width="2.295" />
<line x1="1004.70" y1="303.37" x2="1008.50" y2="303.37" stroke="#000" stroke-width="2.295" />
<line x1="1004.70" y1="296.95" x2="1008.50" y2="296.95" stroke="#000" stroke-width="2.295" />
<line x1="1001.00" y1="291.20" x2="1008.50" y2="291.20" stroke="#000" stroke-width="2.7" />
<line x1="1004.70" y1="253.39" x2="1008.50" y2="253.39" stroke="#000" stroke-width="2.295" />
<line x1="1004.70" y1="231.27" x2="1008.50" y2="231.27" stroke="#000" stroke-width="2.295" />
<line x1="1004.70" y1="215.58" x2="1008.50" y2="215.58" stroke="#000" stroke-width="2.295" />
<line x1="1004.70" y1="203.41" x2="1008.50" y2="203.41" stroke="#000" stroke-width="2.295" />
<line x1="1004.70" y1="193.46" x2="1008.50" y2="193.46" stroke="#000" stroke-width="2.295" />
<line x1="1004.70" y1="185.06" x2="1008.50" y2="185.06" stroke="#000" stroke-width="2.295" />
<line x1="1004.70" y1="177.77" x2="1008.50" y2="177.77" stroke="#000" stroke-width="2.295" />
<line x1="1004.70" y1="171.35" x2="1008.50" y2="171.35" stroke="#000" stroke-width="2.295" />
<line x1="1001.00" y1="165.60" x2="1008.50" y2="165.60" stroke="#000" stroke-width="2.7" />
<line x1="1037.50" y1="542.40" x2="1037.50" y2="549.90" stroke="#000" stroke-width="2.7" />
<line x1="1080.60" y1="542.40" x2="1080.60" y2="549.90" stroke="#000" stroke-width="2.7" />
<line x1="1123.70" y1="542.40" x2="1123.70" y2="549.90" stroke="#000" stroke-width="2.7" />
<line x1="1166.80" y1="542.40" x2="1166.80" y2="549.90" stroke="#000" stroke-width="2.7" />
<line x1="1209.90" y1="542.40" x2="1209.90" y2="549.90" stroke="#000" stroke-width="2.7" />
<line x1="1253.00" y1="542.40" x2="1253.00" y2="549.90" stroke="#000" stroke-width="2.7" />
<line x1="1296.10" y1="542.40" x2="1296.10" y2="549.90" stroke="#000" stroke-width="2.7" />
<line x1="1339.20" y1="542.40" x2="1339.20" y2="549.90" stroke="#000" stroke-width="2.7" />
<line x1="1382.30" y1="542.40" x2="1382.30" y2="549.90" stroke="#000" stroke-width="2.7" />
<line x1="1425.40" y1="542.40" x2="1425.40" y2="549.90" stroke="#000" stroke-width="2.7" />
<line x1="1468.50" y1="542.40" x2="1468.50" y2="549.90" stroke="#000" stroke-width="2.7" />
<line x1="1511.60" y1="542.40" x2="1511.60" y2="549.90" stroke="#000" stroke-width="2.7" />
<line x1="1554.70" y1="542.40" x2="1554.70" y2="549.90" stroke="#000" stroke-width="2.7" />
<line x1="1597.80" y1="542.40" x2="1597.80" y2="549.90" stroke="#000" stroke-width="2.7" />
<line x1="1640.90" y1="542.40" x2="1640.90" y2="549.90" stroke="#000" stroke-width="2.7" />
<line x1="1684.00" y1="542.40" x2="1684.00" y2="549.90" stroke="#000" stroke-width="2.7" />
<text x="999.60" y="552.70" font-size="26.5" font-weight="bold" text-anchor="end" fill="#000" >1</text>
<text x="999.60" y="427.10" font-size="26.5" font-weight="bold" text-anchor="end" fill="#000" >10</text>
<text x="999.60" y="301.50" font-size="26.5" font-weight="bold" text-anchor="end" fill="#000" >100</text>
<text x="999.60" y="175.90" font-size="26.5" font-weight="bold" text-anchor="end" fill="#000" >1000</text>
<text transform="translate(924.00,453.30) rotate(-90)" font-size="30.2" font-weight="bold" text-anchor="start" fill="#000" >Day 0 DEG (%)</text>
<text transform="translate(1047.85,573.75) rotate(-45)" font-size="30.3" font-weight="bold" text-anchor="end" fill="#000" >CXCR3</text>
<text transform="translate(1090.25,573.75) rotate(-45)" font-size="30.3" font-weight="bold" text-anchor="end" fill="#000" >IL-2</text>
<text transform="translate(1131.00,573.25) rotate(-45)" font-size="30.3" font-weight="bold" text-anchor="end" fill="#000" letter-spacing="-0.45">IL-12RB1</text>
<text transform="translate(1177.00,573.65) rotate(-45)" font-size="30.3" font-weight="bold" text-anchor="end" fill="#000" >IFN-Y</text>
<text transform="translate(1217.25,573.25) rotate(-45)" font-size="30.3" font-weight="bold" text-anchor="end" fill="#000" >STAT1</text>
<text transform="translate(1263.10,574.00) rotate(-45)" font-size="30.3" font-weight="bold" text-anchor="end" fill="#000" >STAT4</text>
<text transform="translate(1305.75,573.75) rotate(-45)" font-size="30.3" font-weight="bold" text-anchor="end" fill="#000" >Tbet</text>
<text transform="translate(1392.50,574.00) rotate(-45)" font-size="30.3" font-weight="bold" text-anchor="end" fill="#000" >CCR4</text>
<text transform="translate(1435.35,573.50) rotate(-45)" font-size="30.3" font-weight="bold" text-anchor="end" fill="#000" >IL-4R</text>
<text transform="translate(1479.10,574.25) rotate(-45)" font-size="30.3" font-weight="bold" text-anchor="end" fill="#000" >IL-5</text>
<text transform="translate(1521.45,574.00) rotate(-45)" font-size="30.3" font-weight="bold" text-anchor="end" fill="#000" >IL-13</text>
<text transform="translate(1565.25,574.35) rotate(-45)" font-size="30.3" font-weight="bold" text-anchor="end" fill="#000" >IL-17</text>
<text transform="translate(1608.15,573.50) rotate(-45)" font-size="30.3" font-weight="bold" text-anchor="end" fill="#000" >IL-33R</text>
<text transform="translate(1652.50,573.40) rotate(-45)" font-size="30.3" font-weight="bold" text-anchor="end" fill="#000" >STAT6</text>
<text transform="translate(1695.10,574.10) rotate(-45)" font-size="30.3" font-weight="bold" text-anchor="end" fill="#000" >IL-10</text>
<polyline points="1002,659.5 1002,669.2 1291.25,669.2 1291.25,659.5" fill="none" stroke="#000" stroke-width="2.2"/>
<polyline points="1384,658.3 1384,668.2 1673.25,668.2 1673.25,658.3" fill="none" stroke="#000" stroke-width="2.2"/>
<text x="1150.50" y="706.30" font-size="28" font-weight="bold" text-anchor="middle" fill="#000" >Th1</text>
<text x="1533.50" y="706.30" font-size="28" font-weight="bold" text-anchor="middle" fill="#000" >Th2</text>
</g>
<g id="panelC">
<text x="3.90" y="835.00" font-size="42" font-weight="bold" text-anchor="start" fill="#000" >C</text>
<line x1="141.25" y1="884.60" x2="141.25" y2="929.20" stroke="#000" stroke-width="2.5" />
<line x1="131.50" y1="884.60" x2="151.00" y2="884.60" stroke="#000" stroke-width="2.5" />
<rect x="123.60" y="929.20" width="35.30" height="307.20" fill="#000" stroke="#000" stroke-width="2.5"/>
<line x1="197.75" y1="957.30" x2="197.75" y2="972.20" stroke="#000" stroke-width="2.5" />
<line x1="188.00" y1="957.30" x2="207.50" y2="957.30" stroke="#000" stroke-width="2.5" />
<rect x="180.10" y="972.20" width="35.30" height="264.20" fill="#a09fa3" stroke="#000" stroke-width="2.5"/>
<line x1="254.25" y1="1078.50" x2="254.25" y2="1096.90" stroke="#000" stroke-width="2.5" />
<line x1="244.50" y1="1078.50" x2="264.00" y2="1078.50" stroke="#000" stroke-width="2.5" />
<rect x="236.60" y="1096.90" width="35.30" height="139.50" fill="#808080" stroke="#000" stroke-width="2.5"/>
<line x1="310.75" y1="1134.10" x2="310.75" y2="1156.90" stroke="#000" stroke-width="2.5" />
<line x1="301.00" y1="1134.10" x2="320.50" y2="1134.10" stroke="#000" stroke-width="2.5" />
<rect x="293.10" y="1156.90" width="35.30" height="79.50" fill="#d4d4d4" stroke="#000" stroke-width="2.5"/>
<rect x="103.45" y="867.6" width="245.3" height="368.80000000000007" fill="none" stroke="#000" stroke-width="2.5"/>
<line x1="96.15" y1="1236.40" x2="103.45" y2="1236.40" stroke="#000" stroke-width="2.5" />
<line x1="99.15" y1="1199.39" x2="103.45" y2="1199.39" stroke="#000" stroke-width="2.125" />
<line x1="99.15" y1="1177.75" x2="103.45" y2="1177.75" stroke="#000" stroke-width="2.125" />
<line x1="99.15" y1="1162.39" x2="103.45" y2="1162.39" stroke="#000" stroke-width="2.125" />
<line x1="99.15" y1="1150.47" x2="103.45" y2="1150.47" stroke="#000" stroke-width="2.125" />
<line x1="99.15" y1="1140.74" x2="103.45" y2="1140.74" stroke="#000" stroke-width="2.125" />
<line x1="99.15" y1="1132.51" x2="103.45" y2="1132.51" stroke="#000" stroke-width="2.125" />
<line x1="99.15" y1="1125.38" x2="103.45" y2="1125.38" stroke="#000" stroke-width="2.125" />
<line x1="99.15" y1="1119.09" x2="103.45" y2="1119.09" stroke="#000" stroke-width="2.125" />
<line x1="96.15" y1="1113.47" x2="103.45" y2="1113.47" stroke="#000" stroke-width="2.5" />
<line x1="99.15" y1="1076.46" x2="103.45" y2="1076.46" stroke="#000" stroke-width="2.125" />
<line x1="99.15" y1="1054.81" x2="103.45" y2="1054.81" stroke="#000" stroke-width="2.125" />
<line x1="99.15" y1="1039.45" x2="103.45" y2="1039.45" stroke="#000" stroke-width="2.125" />
<line x1="99.15" y1="1027.54" x2="103.45" y2="1027.54" stroke="#000" stroke-width="2.125" />
<line x1="99.15" y1="1017.81" x2="103.45" y2="1017.81" stroke="#000" stroke-width="2.125" />
<line x1="99.15" y1="1009.58" x2="103.45" y2="1009.58" stroke="#000" stroke-width="2.125" />
<line x1="99.15" y1="1002.45" x2="103.45" y2="1002.45" stroke="#000" stroke-width="2.125" />
<line x1="99.15" y1="996.16" x2="103.45" y2="996.16" stroke="#000" stroke-width="2.125" />
<line x1="96.15" y1="990.53" x2="103.45" y2="990.53" stroke="#000" stroke-width="2.5" />
<line x1="99.15" y1="953.53" x2="103.45" y2="953.53" stroke="#000" stroke-width="2.125" />
<line x1="99.15" y1="931.88" x2="103.45" y2="931.88" stroke="#000" stroke-width="2.125" />
<line x1="99.15" y1="916.52" x2="103.45" y2="916.52" stroke="#000" stroke-width="2.125" />
<line x1="99.15" y1="904.61" x2="103.45" y2="904.61" stroke="#000" stroke-width="2.125" />
<line x1="99.15" y1="894.87" x2="103.45" y2="894.87" stroke="#000" stroke-width="2.125" />
<line x1="99.15" y1="886.64" x2="103.45" y2="886.64" stroke="#000" stroke-width="2.125" />
<line x1="99.15" y1="879.51" x2="103.45" y2="879.51" stroke="#000" stroke-width="2.125" />
<line x1="99.15" y1="873.23" x2="103.45" y2="873.23" stroke="#000" stroke-width="2.125" />
<line x1="96.15" y1="867.60" x2="103.45" y2="867.60" stroke="#000" stroke-width="2.5" />
<line x1="141.25" y1="1236.40" x2="141.25" y2="1243.40" stroke="#000" stroke-width="2.5" />
<line x1="197.75" y1="1236.40" x2="197.75" y2="1243.40" stroke="#000" stroke-width="2.5" />
<line x1="254.25" y1="1236.40" x2="254.25" y2="1243.40" stroke="#000" stroke-width="2.5" />
<line x1="310.75" y1="1236.40" x2="310.75" y2="1243.40" stroke="#000" stroke-width="2.5" />
<text x="94.00" y="1244.70" font-size="22.7" font-weight="bold" text-anchor="end" fill="#000" >1</text>
<text x="94.00" y="1121.77" font-size="22.7" font-weight="bold" text-anchor="end" fill="#000" >10</text>
<text x="94.00" y="998.83" font-size="22.7" font-weight="bold" text-anchor="end" fill="#000" >100</text>
<text x="94.00" y="875.90" font-size="22.7" font-weight="bold" text-anchor="end" fill="#000" >1000</text>
<text transform="translate(30.00,1151.00) rotate(-90)" font-size="29.4" font-weight="bold" text-anchor="start" fill="#000" >Day 0 DEG (%)</text>
<text transform="translate(151.90,1266.60) rotate(-45)" font-size="29.7" font-weight="bold" text-anchor="end" fill="#000" >CD3D</text>
<text transform="translate(207.70,1268.00) rotate(-45)" font-size="29.7" font-weight="bold" text-anchor="end" fill="#000" >CD4</text>
<text transform="translate(264.75,1267.30) rotate(-45)" font-size="29.7" font-weight="bold" text-anchor="end" fill="#000" >CD8A</text>
<text transform="translate(321.35,1268.00) rotate(-45)" font-size="29.7" font-weight="bold" text-anchor="end" fill="#000" >FOXP3</text>
</g>
<g id="panelD">
<text x="387.40" y="835.00" font-size="42" font-weight="bold" text-anchor="start" fill="#000" >D</text>
<line x1="486.90" y1="1216.18" x2="486.90" y2="1237.22" stroke="#000" stroke-width="2.5" />
<line x1="482.10" y1="1216.18" x2="491.70" y2="1216.18" stroke="#000" stroke-width="2.5" />
<line x1="482.10" y1="1237.22" x2="491.70" y2="1237.22" stroke="#000" stroke-width="2.5" />
<line x1="881.70" y1="916.66" x2="881.70" y2="1190.53" stroke="#000" stroke-width="2.5" />
<line x1="876.90" y1="916.66" x2="886.50" y2="916.66" stroke="#000" stroke-width="2.5" />
<line x1="876.90" y1="1190.53" x2="886.50" y2="1190.53" stroke="#000" stroke-width="2.5" />
<line x1="1013.30" y1="1190.53" x2="1013.30" y2="1221.53" stroke="#000" stroke-width="2.5" />
<line x1="1008.50" y1="1190.53" x2="1018.10" y2="1190.53" stroke="#000" stroke-width="2.5" />
<line x1="1008.50" y1="1221.53" x2="1018.10" y2="1221.53" stroke="#000" stroke-width="2.5" />
<line x1="486.90" y1="1228.11" x2="486.90" y2="1237.97" stroke="#000" stroke-width="2.5" />
<line x1="482.10" y1="1228.11" x2="491.70" y2="1228.11" stroke="#000" stroke-width="2.5" />
<line x1="482.10" y1="1237.97" x2="491.70" y2="1237.97" stroke="#000" stroke-width="2.5" />
<line x1="618.50" y1="1232.81" x2="618.50" y2="1239.38" stroke="#000" stroke-width="2.5" />
<line x1="613.70" y1="1232.81" x2="623.30" y2="1232.81" stroke="#000" stroke-width="2.5" />
<line x1="613.70" y1="1239.38" x2="623.30" y2="1239.38" stroke="#000" stroke-width="2.5" />
<line x1="881.70" y1="1107.85" x2="881.70" y2="1182.07" stroke="#000" stroke-width="2.5" />
<line x1="876.90" y1="1107.85" x2="886.50" y2="1107.85" stroke="#000" stroke-width="2.5" />
<line x1="876.90" y1="1182.07" x2="886.50" y2="1182.07" stroke="#000" stroke-width="2.5" />
<line x1="1013.30" y1="1190.53" x2="1013.30" y2="1202.74" stroke="#000" stroke-width="2.5" />
<line x1="1008.50" y1="1190.53" x2="1018.10" y2="1190.53" stroke="#000" stroke-width="2.5" />
<line x1="1008.50" y1="1202.74" x2="1018.10" y2="1202.74" stroke="#000" stroke-width="2.5" />
<polyline fill="none" stroke="#000" stroke-width="2.5" points="486.90,1226.70 618.50,1238.72 750.10,1145.43 881.70,1053.36 1013.30,1206.50"/>
<polyline fill="none" stroke="#000" stroke-width="2.5" stroke-dasharray="7.5,4.5" points="486.90,1233.27 618.50,1235.62 750.10,1189.21 881.70,1143.55 1013.30,1197.10"/>
<circle cx="486.90" cy="1226.70" r="5" fill="#000"/>
<circle cx="618.50" cy="1238.72" r="5" fill="#000"/>
<circle cx="750.10" cy="1145.43" r="5" fill="#000"/>
<circle cx="881.70" cy="1053.36" r="5" fill="#000"/>
<circle cx="1013.30" cy="1206.50" r="5" fill="#000"/>
<polygon points="481.90,1228.87 491.90,1228.87 486.90,1238.17" fill="#000"/>
<polygon points="613.50,1231.22 623.50,1231.22 618.50,1240.52" fill="#000"/>
<polygon points="745.10,1184.81 755.10,1184.81 750.10,1194.11" fill="#000"/>
<polygon points="876.70,1139.15 886.70,1139.15 881.70,1148.45" fill="#000"/>
<polygon points="1008.30,1192.70 1018.30,1192.70 1013.30,1202.00" fill="#000"/>
<rect x="468.1" y="866.4" width="563.9999999999999" height="375.80000000000007" fill="none" stroke="#000" stroke-width="2.6"/>
<line x1="468.10" y1="1242.20" x2="468.10" y2="1249.40" stroke="#000" stroke-width="2.6" />
<text x="468.10" y="1277.20" font-size="26.7" font-weight="bold" text-anchor="middle" fill="#000" >0</text>
<line x1="562.10" y1="1242.20" x2="562.10" y2="1249.40" stroke="#000" stroke-width="2.6" />
<text x="562.10" y="1277.20" font-size="26.7" font-weight="bold" text-anchor="middle" fill="#000" >5</text>
<line x1="656.10" y1="1242.20" x2="656.10" y2="1249.40" stroke="#000" stroke-width="2.6" />
<text x="656.10" y="1277.20" font-size="26.7" font-weight="bold" text-anchor="middle" fill="#000" >10</text>
<line x1="750.10" y1="1242.20" x2="750.10" y2="1249.40" stroke="#000" stroke-width="2.6" />
<text x="750.10" y="1277.20" font-size="26.7" font-weight="bold" text-anchor="middle" fill="#000" >15</text>
<line x1="844.10" y1="1242.20" x2="844.10" y2="1249.40" stroke="#000" stroke-width="2.6" />
<text x="844.10" y="1277.20" font-size="26.7" font-weight="bold" text-anchor="middle" fill="#000" >20</text>
<line x1="938.10" y1="1242.20" x2="938.10" y2="1249.40" stroke="#000" stroke-width="2.6" />
<text x="938.10" y="1277.20" font-size="26.7" font-weight="bold" text-anchor="middle" fill="#000" >25</text>
<line x1="1032.10" y1="1242.20" x2="1032.10" y2="1249.40" stroke="#000" stroke-width="2.6" />
<text x="1032.10" y="1277.20" font-size="26.7" font-weight="bold" text-anchor="middle" fill="#000" >30</text>
<line x1="460.70" y1="1242.20" x2="468.10" y2="1242.20" stroke="#000" stroke-width="2.6" />
<text x="458.50" y="1251.80" font-size="26.7" font-weight="bold" text-anchor="end" fill="#000" >0</text>
<line x1="460.70" y1="1148.25" x2="468.10" y2="1148.25" stroke="#000" stroke-width="2.6" />
<text x="458.50" y="1157.85" font-size="26.7" font-weight="bold" text-anchor="end" fill="#000" >10</text>
<line x1="460.70" y1="1054.30" x2="468.10" y2="1054.30" stroke="#000" stroke-width="2.6" />
<text x="458.50" y="1063.90" font-size="26.7" font-weight="bold" text-anchor="end" fill="#000" >20</text>
<line x1="460.70" y1="960.35" x2="468.10" y2="960.35" stroke="#000" stroke-width="2.6" />
<text x="458.50" y="969.95" font-size="26.7" font-weight="bold" text-anchor="end" fill="#000" >30</text>
<line x1="460.70" y1="866.40" x2="468.10" y2="866.40" stroke="#000" stroke-width="2.6" />
<text x="458.50" y="876.00" font-size="26.7" font-weight="bold" text-anchor="end" fill="#000" >40</text>
<text transform="translate(414.00,1162.10) rotate(-90)" font-size="28.9" font-weight="bold" text-anchor="start" fill="#000" >Positive cells(%)</text>
<text x="580.50" y="1317.60" font-size="29.6" font-weight="bold" text-anchor="start" fill="#000" >Day post final treatment</text>
<line x1="479.70" y1="899.00" x2="504.90" y2="899.00" stroke="#000" stroke-width="2.5" />
<circle cx="492.30" cy="899.00" r="4.9" fill="#000"/>
<line x1="479.70" y1="931.20" x2="505.00" y2="931.20" stroke="#000" stroke-width="2.5" stroke-dasharray="5.5,17.4,2.3,10"/>
<polygon points="487.30,926.80 497.30,926.80 492.30,936.10" fill="#000"/>
<text x="518.80" y="907.00" font-size="23.5" font-weight="normal" text-anchor="start" fill="#000" >CD14/CD163</text>
<text x="518.80" y="938.80" font-size="23.5" font-weight="normal" text-anchor="start" fill="#000" >CD14/CD16</text>
</g>
<g id="panelE">
<text x="1033.90" y="835.00" font-size="42" font-weight="bold" text-anchor="start" fill="#000" >E</text>
<line x1="1155.17" y1="872.14" x2="1155.17" y2="901.82" stroke="#000" stroke-width="2.5" />
<line x1="1150.37" y1="872.14" x2="1159.97" y2="872.14" stroke="#000" stroke-width="2.5" />
<line x1="1150.37" y1="901.82" x2="1159.97" y2="901.82" stroke="#000" stroke-width="2.5" />
<line x1="1286.59" y1="887.91" x2="1286.59" y2="916.84" stroke="#000" stroke-width="2.5" />
<line x1="1281.79" y1="887.91" x2="1291.39" y2="887.91" stroke="#000" stroke-width="2.5" />
<line x1="1281.79" y1="916.84" x2="1291.39" y2="916.84" stroke="#000" stroke-width="2.5" />
<line x1="1549.41" y1="925.86" x2="1549.41" y2="1242.20" stroke="#000" stroke-width="2.5" />
<line x1="1544.61" y1="925.86" x2="1554.21" y2="925.86" stroke="#000" stroke-width="2.5" />
<line x1="1680.83" y1="1053.97" x2="1680.83" y2="1216.65" stroke="#000" stroke-width="2.5" />
<line x1="1676.03" y1="1053.97" x2="1685.63" y2="1053.97" stroke="#000" stroke-width="2.5" />
<line x1="1676.03" y1="1216.65" x2="1685.63" y2="1216.65" stroke="#000" stroke-width="2.5" />
<line x1="1680.83" y1="1118.59" x2="1680.83" y2="1242.20" stroke="#000" stroke-width="2.5" />
<line x1="1676.03" y1="1118.59" x2="1685.63" y2="1118.59" stroke="#000" stroke-width="2.5" />
<polyline fill="none" stroke="#000" stroke-width="2.5" points="1155.17,1242.20 1286.59,1242.20 1549.41,1222.66 1680.83,1188.85"/>
<polyline fill="none" stroke="#000" stroke-width="2.5" stroke-dasharray="7.5,4.5" points="1155.17,887.91 1286.59,902.94 1549.41,1094.93 1680.83,1135.50"/>
<polygon points="1149.97,1247.10 1160.37,1247.10 1155.17,1237.60" fill="#000"/>
<polygon points="1281.39,1247.10 1291.79,1247.10 1286.59,1237.60" fill="#000"/>
<polygon points="1544.21,1227.56 1554.61,1227.56 1549.41,1218.06" fill="#000"/>
<polygon points="1675.63,1193.75 1686.03,1193.75 1680.83,1184.25" fill="#000"/>
<circle cx="1155.17" cy="887.91" r="5" fill="#000"/>
<circle cx="1286.59" cy="902.94" r="5" fill="#000"/>
<circle cx="1549.41" cy="1094.93" r="5" fill="#000"/>
<circle cx="1680.83" cy="1135.50" r="5" fill="#000"/>
<rect x="1136.4" y="866.5" width="563.1999999999998" height="375.70000000000005" fill="none" stroke="#000" stroke-width="2.6"/>
<line x1="1136.40" y1="1242.20" x2="1136.40" y2="1249.40" stroke="#000" stroke-width="2.6" />
<text x="1136.40" y="1277.20" font-size="26.7" font-weight="bold" text-anchor="middle" fill="#000" >0</text>
<line x1="1230.27" y1="1242.20" x2="1230.27" y2="1249.40" stroke="#000" stroke-width="2.6" />
<text x="1230.27" y="1277.20" font-size="26.7" font-weight="bold" text-anchor="middle" fill="#000" >5</text>
<line x1="1324.13" y1="1242.20" x2="1324.13" y2="1249.40" stroke="#000" stroke-width="2.6" />
<text x="1324.13" y="1277.20" font-size="26.7" font-weight="bold" text-anchor="middle" fill="#000" >10</text>
<line x1="1418.00" y1="1242.20" x2="1418.00" y2="1249.40" stroke="#000" stroke-width="2.6" />
<text x="1418.00" y="1277.20" font-size="26.7" font-weight="bold" text-anchor="middle" fill="#000" >15</text>
<line x1="1511.87" y1="1242.20" x2="1511.87" y2="1249.40" stroke="#000" stroke-width="2.6" />
<text x="1511.87" y="1277.20" font-size="26.7" font-weight="bold" text-anchor="middle" fill="#000" >20</text>
<line x1="1605.73" y1="1242.20" x2="1605.73" y2="1249.40" stroke="#000" stroke-width="2.6" />
<text x="1605.73" y="1277.20" font-size="26.7" font-weight="bold" text-anchor="middle" fill="#000" >25</text>
<line x1="1699.60" y1="1242.20" x2="1699.60" y2="1249.40" stroke="#000" stroke-width="2.6" />
<text x="1699.60" y="1277.20" font-size="26.7" font-weight="bold" text-anchor="middle" fill="#000" >30</text>
<line x1="1129.00" y1="1242.20" x2="1136.40" y2="1242.20" stroke="#000" stroke-width="2.6" />
<text x="1126.50" y="1251.80" font-size="26.7" font-weight="bold" text-anchor="end" fill="#000" >0</text>
<line x1="1129.00" y1="1054.35" x2="1136.40" y2="1054.35" stroke="#000" stroke-width="2.6" />
<text x="1126.50" y="1063.95" font-size="26.7" font-weight="bold" text-anchor="end" fill="#000" >50</text>
<line x1="1129.00" y1="866.50" x2="1136.40" y2="866.50" stroke="#000" stroke-width="2.6" />
<text x="1126.50" y="876.10" font-size="26.7" font-weight="bold" text-anchor="end" fill="#000" >100</text>
<text transform="translate(1067.50,1162.40) rotate(-90)" font-size="28.9" font-weight="bold" text-anchor="start" fill="#000" >Positive cells(%)</text>
<text x="1248.60" y="1317.60" font-size="29.6" font-weight="bold" text-anchor="start" fill="#000" >Day post final treatment</text>
<text x="1155.17" y="925.50" font-size="24" font-weight="normal" text-anchor="middle" fill="#000" >*</text>
<text x="1285.59" y="946.00" font-size="24" font-weight="normal" text-anchor="middle" fill="#000" >*</text>
<line x1="1152.30" y1="1184.60" x2="1178.00" y2="1184.60" stroke="#000" stroke-width="2.5" />
<polygon points="1159.80,1189.50 1170.20,1189.50 1165.00,1180.00" fill="#000"/>
<line x1="1152.30" y1="1216.00" x2="1178.00" y2="1216.00" stroke="#000" stroke-width="2.5" stroke-dasharray="5.5,17.4,2.5,10"/>
<circle cx="1165.00" cy="1216.00" r="4.9" fill="#000"/>
<text x="1191.80" y="1192.50" font-size="23.3" font-weight="normal" text-anchor="start" fill="#000" >CD3/CD4</text>
<text x="1191.80" y="1223.00" font-size="23.3" font-weight="normal" text-anchor="start" fill="#000" >CD3/CD8</text>
</g>
</svg></body></html>
